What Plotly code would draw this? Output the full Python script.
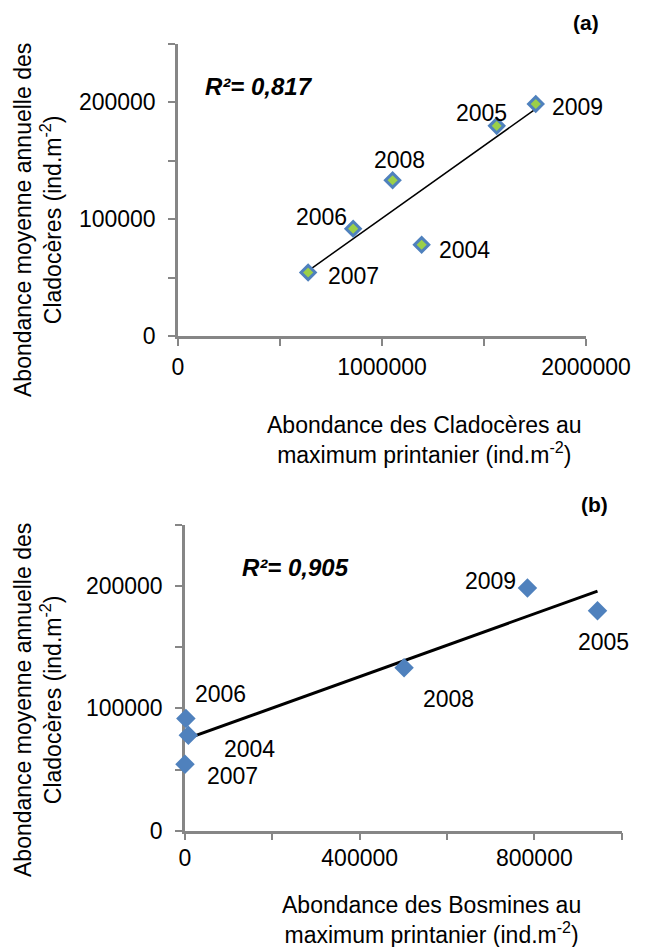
import numpy as np
import plotly.graph_objects as go

# ---- data ----
years = ["2004", "2005", "2006", "2007", "2008", "2009"]
clado_annual = [78000, 179600, 91700, 54300, 133100, 198300]          # y in both panels
clado_spring_max = [1194300, 1562300, 858700, 637900, 1052000, 1753700]  # x panel (a)
bosm_spring_max = [7600, 944600, 2000, 0, 501700, 784200]                # x panel (b)
r2_text_a = "R²= 0,817"
r2_text_b = "R²= 0,905"

# ---- styles ----
FONT = "Liberation Sans, Arial, sans-serif"
GRAY = "#868686"
BLUE = "#4F81BD"
GREEN = "#9BD048"
W, H = 648, 947
# label offsets (pixels) for the year labels
shift_a = {"2004": (43, -5), "2005": (-15, 13), "2006": (-32, 12),
           "2007": (45, -4), "2008": (7, 20), "2009": (42, -3)}
shift_b = {"2004": (61, -14), "2005": (6, -31), "2006": (35, 24),
           "2007": (47, -12), "2008": (44, -31), "2009": (-37, 7)}

fig = go.Figure()

# panel (a)
fa = np.polyfit(clado_spring_max, clado_annual, 1)
xa_line = [min(clado_spring_max), max(clado_spring_max)]
fig.add_trace(go.Scatter(x=xa_line, y=list(np.polyval(fa, xa_line)), mode="lines",
                         line=dict(color="black", width=1.5), xaxis="x", yaxis="y",
                         showlegend=False, hoverinfo="skip"))
fig.add_trace(go.Scatter(x=clado_spring_max, y=clado_annual, mode="markers",
                         marker=dict(symbol="diamond", size=11, color=GREEN,
                                     line=dict(color=BLUE, width=3)),
                         xaxis="x", yaxis="y", showlegend=False, cliponaxis=False))

# panel (b)
fb = np.polyfit(bosm_spring_max, clado_annual, 1)
xb_line = [min(bosm_spring_max), max(bosm_spring_max)]
fig.add_trace(go.Scatter(x=xb_line, y=list(np.polyval(fb, xb_line)), mode="lines",
                         line=dict(color="black", width=3), xaxis="x2", yaxis="y2",
                         showlegend=False, hoverinfo="skip"))
fig.add_trace(go.Scatter(x=bosm_spring_max, y=clado_annual, mode="markers",
                         marker=dict(symbol="diamond", size=15, color=BLUE),
                         xaxis="x2", yaxis="y2", showlegend=False, cliponaxis=False))

ann = []
for i, yr in enumerate(years):
    dx, dy = shift_a[yr]
    ann.append(dict(x=clado_spring_max[i], y=clado_annual[i], xref="x", yref="y",
                    text=yr, showarrow=False, xshift=dx, yshift=dy,
                    font=dict(family=FONT, size=23, color="black")))
    dx, dy = shift_b[yr]
    ann.append(dict(x=bosm_spring_max[i], y=clado_annual[i], xref="x2", yref="y2",
                    text=yr, showarrow=False, xshift=dx, yshift=dy,
                    font=dict(family=FONT, size=23, color="black")))


def P(px, py):
    return px / W, 1 - py / H


def pann(text, px, py, size, **kw):
    x, y = P(px, py)
    d = dict(x=x, y=y, xref="paper", yref="paper", text=text, showarrow=False,
             xanchor="center", yanchor="middle",
             font=dict(family=FONT, size=size, color="black"))
    d.update(kw)
    return d


ann.append(pann("<b><i>" + r2_text_a + "</i></b>", 259, 87, 24))
ann.append(pann("<b><i>" + r2_text_b + "</i></b>", 295, 567, 24))
ann.append(pann("<b>(a)</b>", 586, 23, 21))
ann.append(pann("<b>(b)</b>", 594, 505, 21))
ann.append(pann("Abondance des Cladocères au<br>maximum printanier (ind.m<sup>-2</sup>)",
                424, 440, 23))
ann.append(pann("Abondance des Bosmines au<br>maximum printanier (ind.m<sup>-2</sup>)",
                431, 920, 23))
ann.append(pann("Abondance moyenne annuelle des<br>Cladocères (ind.m<sup>-2</sup>)",
                38, 220, 23, textangle=-90))
ann.append(pann("Abondance moyenne annuelle des<br>Cladocères (ind.m<sup>-2</sup>)",
                38, 700, 23, textangle=-90))


def ax(**kw):
    d = dict(showline=True, linecolor=GRAY, linewidth=2.5, ticks="outside",
             ticklen=7, tickwidth=2, tickcolor=GRAY, showgrid=False, zeroline=False,
             tickfont=dict(family=FONT, size=23, color="black"), tickformat="d",
             layer="below traces", automargin=False, tickmode="linear", tick0=0)
    d.update(kw)
    return d


def minor(step):
    return dict(ticks="outside", ticklen=7, tickwidth=2, tickcolor=GRAY,
                tick0=0, dtick=step, showgrid=False)


fig.update_layout(
    width=W, height=H, margin=dict(l=0, r=0, t=0, b=0, pad=0), autosize=False,
    paper_bgcolor="white", plot_bgcolor="white", showlegend=False,
    xaxis=ax(domain=[178 / W, 586 / W], range=[0, 2000000], anchor="y",
             dtick=1000000, minor=minor(500000), ticklabelstandoff=2),
    yaxis=ax(domain=[1 - 336 / H, 1 - 43.5 / H], range=[0, 250000], anchor="x",
             dtick=100000, minor=minor(50000), ticklabelstandoff=8),
    xaxis2=ax(domain=[185 / W, 621.7 / W], range=[0, 1000000], anchor="y2",
              dtick=400000, minor=minor(200000), ticklabelstandoff=-2),
    yaxis2=ax(domain=[1 - 830.7 / H, 1 - 524.7 / H], range=[0, 250000], anchor="x2",
              dtick=100000, minor=minor(50000), ticklabelstandoff=8),
    annotations=ann,
)

fig.write_html("out.html", config={"displayModeBar": False},
               post_script="document.body.style.margin='0';document.body.style.overflow='hidden';")
